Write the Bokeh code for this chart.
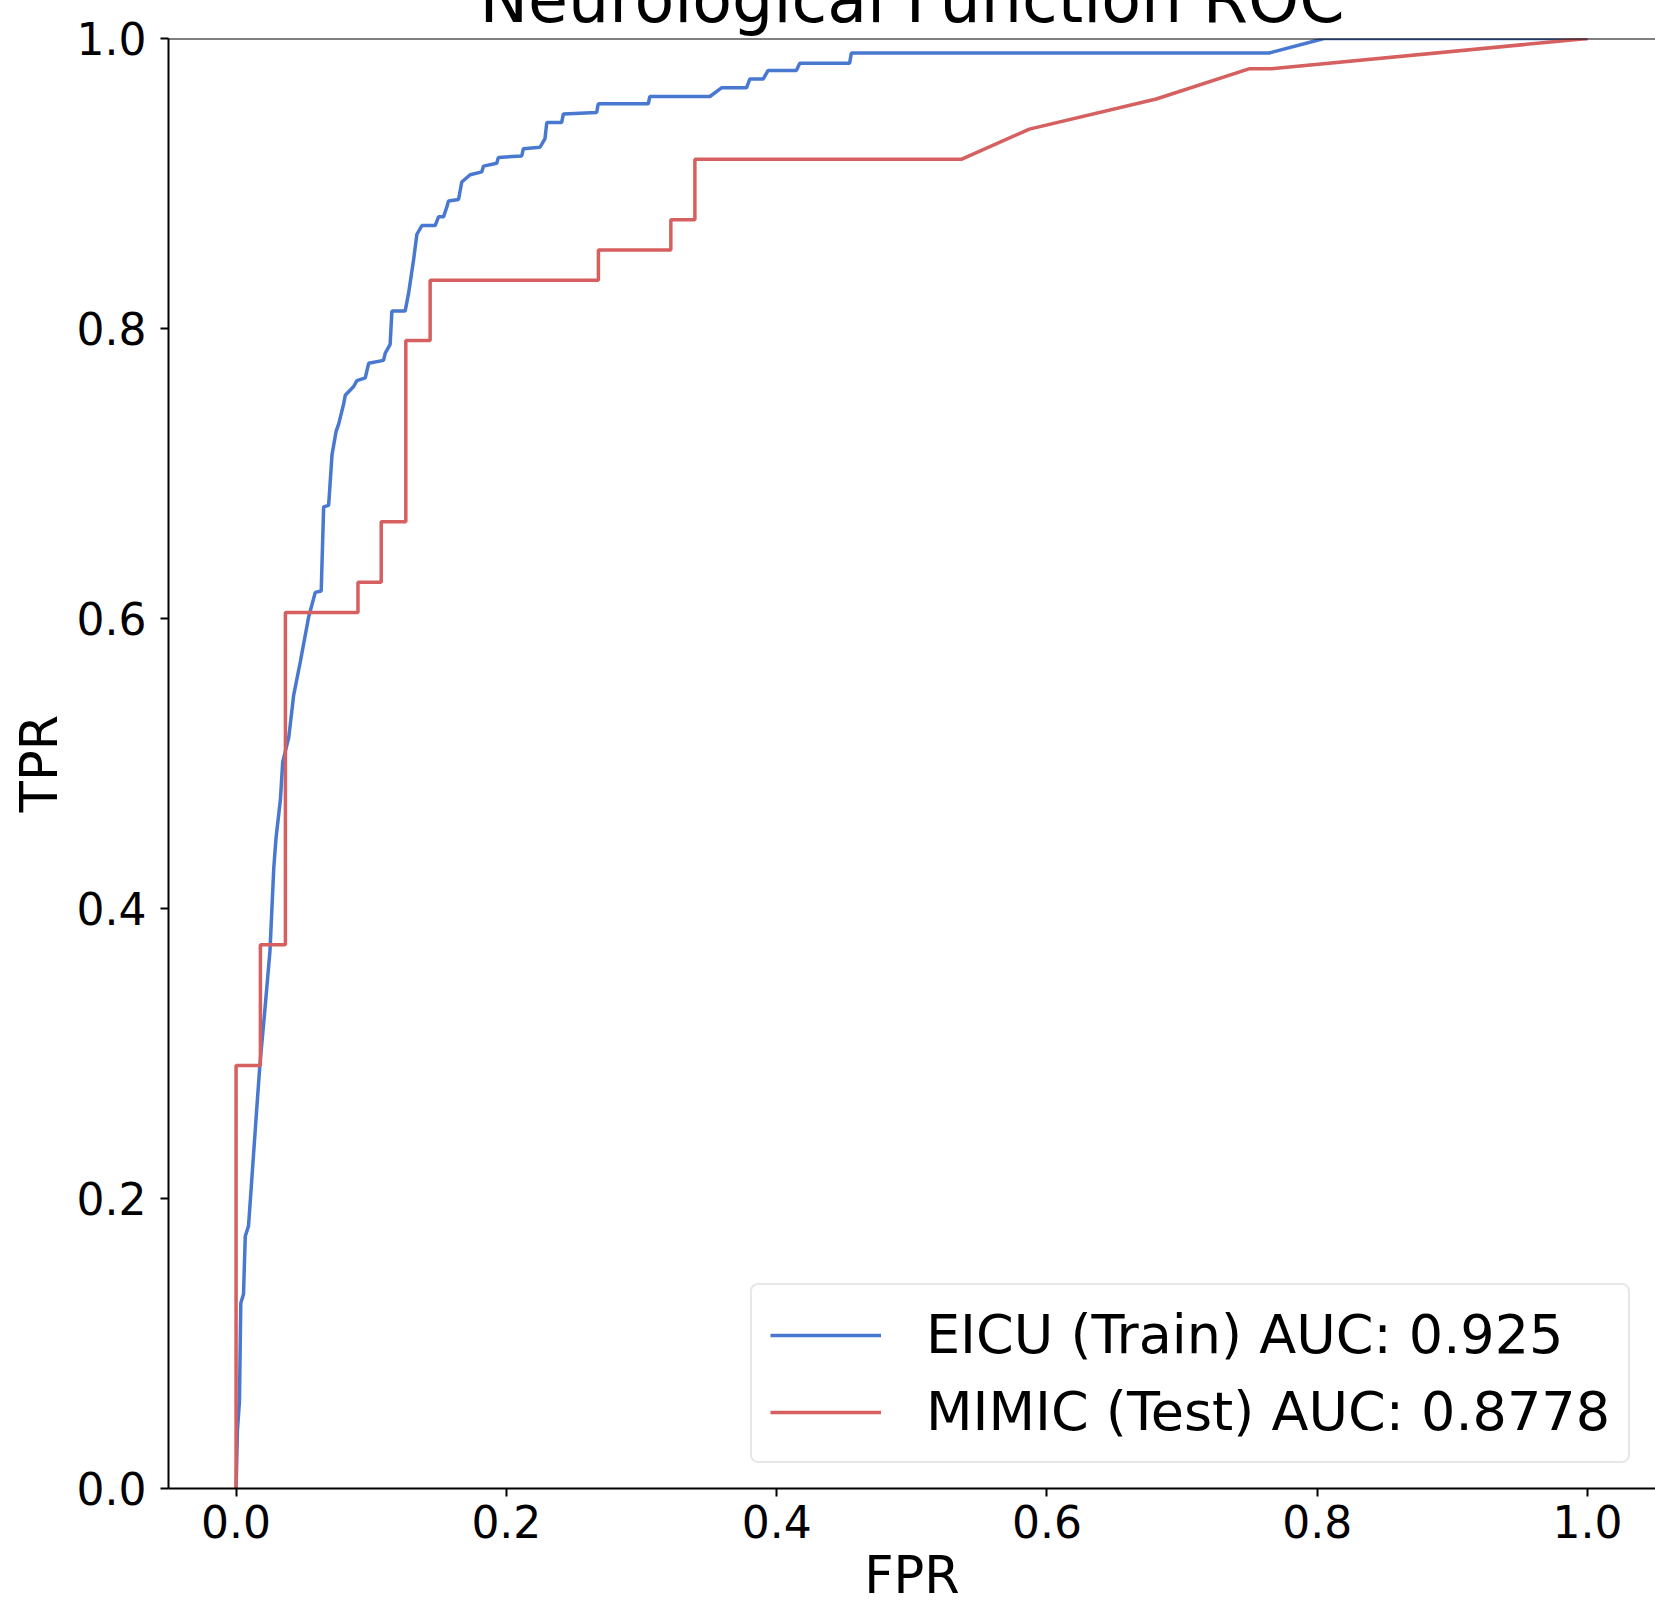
from bokeh.plotting import figure
from bokeh.models import Range1d, Span, Legend, LegendItem, FixedTicker
from bokeh.embed import file_html
from bokeh.resources import INLINE

# ---------------- data ----------------
title_text = "Neurological Function ROC"
x_label = "FPR"
y_label = "TPR"
tick_values = [0.0, 0.2, 0.4, 0.6, 0.8, 1.0]
tick_labels = ["0.0", "0.2", "0.4", "0.6", "0.8", "1.0"]

eicu_label = "EICU (Train) AUC: 0.925"
mimic_label = "MIMIC (Test) AUC: 0.8778"

eicu_fpr = [0.000, 0.001, 0.0025, 0.0035, 0.0055, 0.0068, 0.0092, 0.0153, 0.0177, 0.0214,
            0.0251, 0.0279, 0.0296, 0.0328, 0.0345, 0.0390, 0.0426, 0.0475, 0.0537, 0.0586,
            0.0630, 0.0648, 0.0685, 0.0710, 0.0740, 0.0759, 0.0796, 0.0808, 0.0870, 0.0894,
            0.0956, 0.0981, 0.1091, 0.1104, 0.1140, 0.1153, 0.1251, 0.1276, 0.1313, 0.1338,
            0.1375, 0.1473, 0.1498, 0.1535, 0.1560, 0.1572, 0.1646, 0.1670, 0.1732, 0.1818,
            0.1831, 0.1929, 0.1941, 0.2114, 0.2126, 0.2249, 0.2286, 0.2299, 0.2409, 0.2422,
            0.2668, 0.2680, 0.3050, 0.3062, 0.3506, 0.3592, 0.3777, 0.3801, 0.3900, 0.3937,
            0.4146, 0.4171, 0.4540, 0.4553, 0.7645, 0.8050, 1.000]
eicu_tpr = [0.000, 0.040, 0.060, 0.128, 0.134, 0.174, 0.181, 0.262, 0.293, 0.331,
            0.371, 0.428, 0.449, 0.475, 0.501, 0.518, 0.547, 0.570, 0.601, 0.618,
            0.619, 0.677, 0.678, 0.713, 0.729, 0.734, 0.748, 0.754, 0.760, 0.764,
            0.766, 0.776, 0.778, 0.783, 0.789, 0.812, 0.812, 0.824, 0.847, 0.865,
            0.871, 0.871, 0.877, 0.877, 0.884, 0.888, 0.889, 0.901, 0.906, 0.908,
            0.912, 0.914, 0.918, 0.919, 0.924, 0.925, 0.931, 0.942, 0.942, 0.948,
            0.949, 0.955, 0.955, 0.960, 0.960, 0.966, 0.966, 0.972, 0.972, 0.978,
            0.978, 0.983, 0.983, 0.990, 0.990, 1.000, 1.000]

mimic_fpr = [0.000, 0.000, 0.018, 0.018, 0.0365, 0.0365, 0.0902, 0.0902, 0.1074, 0.1074,
             0.1256, 0.1256, 0.1436, 0.1436, 0.2681, 0.2681, 0.3217, 0.3217, 0.3395, 0.3395,
             0.5366, 0.5870, 0.6809, 0.7500, 0.7660, 1.000]
mimic_tpr = [0.000, 0.2917, 0.2917, 0.375, 0.375, 0.6042, 0.6042, 0.625, 0.625, 0.6667,
             0.6667, 0.7917, 0.7917, 0.8333, 0.8333, 0.8542, 0.8542, 0.875, 0.875, 0.9167,
             0.9167, 0.9375, 0.9583, 0.9792, 0.9792, 1.000]

# ---------------- style ----------------
FONT = "DejaVu Sans"
BLUE = "#4878d0"
RED = "#d65f5f"
SHIFT = 50  # canvas extends above the page; the title is cut off like the reference

p = figure(width=1655, height=1609 + SHIFT,
           x_range=Range1d(-0.05, 1.0503), y_range=Range1d(0.0, 1.0),
           output_backend="svg", toolbar_location=None,
           min_border_left=168, min_border_right=0,
           min_border_top=38 + SHIFT, min_border_bottom=121)
p.styles = {"margin-top": "-%dpx" % SHIFT}

p.title.text = title_text
p.title.align = "center"
p.title.text_font = FONT
p.title.text_font_size = "65px"
p.title.text_font_style = "normal"
p.title.text_color = "black"
p.title.standoff = 3

p.background_fill_color = "white"
p.border_fill_color = "white"
p.outline_line_color = None
p.grid.visible = False

r_eicu = p.line(eicu_fpr, eicu_tpr, line_color=BLUE, line_width=3.5)
r_mimic = p.line(mimic_fpr, mimic_tpr, line_color=RED, line_width=3.5)

for ax in (p.xaxis[0], p.yaxis[0]):
    ax.ticker = FixedTicker(ticks=tick_values)
    ax.major_label_overrides = {v: l for v, l in zip(tick_values, tick_labels)}
    ax.minor_tick_line_color = None
    ax.major_tick_in = 0
    ax.major_tick_out = 8
    ax.major_tick_line_width = 2
    ax.major_tick_line_color = "black"
    ax.axis_line_width = 2
    ax.axis_line_color = "black"
    ax.major_label_text_font = FONT
    ax.major_label_text_font_size = "44px"
    ax.major_label_text_color = "black"
    ax.axis_label_text_font = FONT
    ax.axis_label_text_font_size = "51px"
    ax.axis_label_text_font_style = "normal"
    ax.axis_label_text_color = "black"

p.xaxis.major_label_standoff = 8
p.yaxis.major_label_standoff = 14

p.xaxis.axis_label = x_label
p.xaxis.axis_label_standoff = 5
p.yaxis.axis_label = y_label
p.yaxis.axis_label_standoff = 5

# top spine
p.add_layout(Span(location=1.0, dimension="width", line_color="black", line_width=2))

legend = Legend(items=[LegendItem(label=eicu_label, renderers=[r_eicu]),
                       LegendItem(label=mimic_label, renderers=[r_mimic])],
                location="bottom_right", margin=25, padding=18, spacing=14,
                glyph_width=111, glyph_height=60, label_standoff=45,
                label_text_font=FONT, label_text_font_size="54px",
                label_text_color="black",
                border_line_color="#d0d0d0", border_line_width=2,
                background_fill_color="white", background_fill_alpha=0.8)
try:
    legend.border_radius = 8
except Exception:
    pass
p.add_layout(legend)

open("out.html", "w").write(file_html(p, INLINE))
